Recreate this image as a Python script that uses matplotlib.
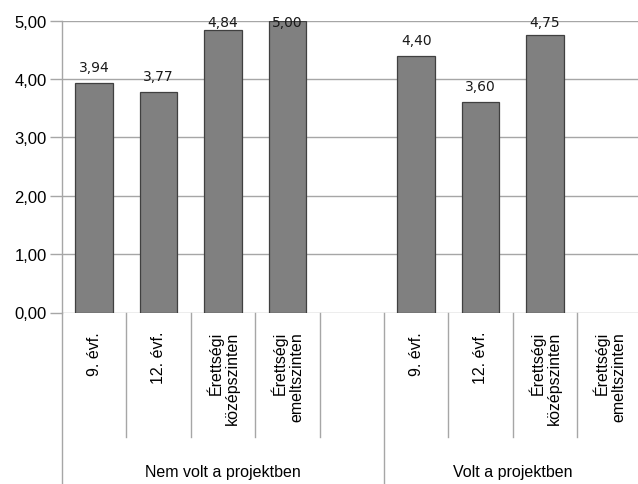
import numpy as np
import matplotlib
matplotlib.use("Agg")
import matplotlib.pyplot as plt
from matplotlib import font_manager
from matplotlib.transforms import blended_transform_factory

# ---- data ----
groups = ["Nem volt a projektben", "Volt a projektben"]
subcats = ["9. évf.", "12. évf.", "Érettségi\nközépszinten", "Érettségi\nemeltszinten"]
nem_values = [3.94, 3.77, 4.84, 5.00]
volt_values = [4.40, 3.60, 4.75, np.nan]
yticks = [0, 1, 2, 3, 4, 5]

# category layout: group 1 (4 + one empty slot), group 2 (4)
labels = subcats + [""] + subcats
values = nem_values + [np.nan] + volt_values
x = np.arange(len(labels))

available = {f.name for f in font_manager.fontManager.ttflist}
if "Liberation Sans Narrow" in available:
    axfont, axsize, ysize = "Liberation Sans Narrow", 14, 15
else:
    axfont, axsize, ysize = "Liberation Sans", 11.5, 12

W, H = 638, 485
fig = plt.figure(figsize=(W / 100, H / 100), dpi=100)
ax_left, ax_right = 62, 638
ax_top, ax_bottom = 21.7, 313.5
ax = fig.add_axes([ax_left / W, (H - ax_bottom) / H, (ax_right - ax_left) / W, (ax_bottom - ax_top) / H])

cat_w = 64.4
ax.set_xlim(-0.5, -0.5 + (ax_right - ax_left) / cat_w)
ax.set_ylim(0, 5)

grid_col = "#a6a6a6"
ax.bar(x, values, width=0.585, color="#808080", edgecolor="#404040", linewidth=0.9, zorder=3)

# data labels: 12 px above bar top, but kept inside the chart area (baseline no higher than y=27 px)
fig.canvas.draw()
inv = ax.transData.inverted()
top_limit_disp = H - 27
for xi, v in zip(x, values):
    if not np.isnan(v):
        bar_top_disp = ax.transData.transform((xi, v))[1]
        base_disp = min(bar_top_disp + 12, top_limit_disp)
        y_base = inv.transform((0, base_disp))[1]
        ax.text(xi, y_base, f"{v:.2f}".replace(".", ","), ha="center", va="baseline",
                fontsize=10, family="DejaVu Sans", color="#1a1a1a", clip_on=False, zorder=4)

ax.set_yticks(yticks)
ax.set_yticklabels([f"{t:.2f}".replace(".", ",") for t in yticks], fontsize=ysize, family=axfont)
ax.yaxis.grid(True, color=grid_col, linewidth=1.0, zorder=0)
ax.set_axisbelow(True)
ax.tick_params(axis="y", length=9, width=1.0, color=grid_col, pad=2)
ax.set_xticks([])
for s in ["top", "right", "bottom"]:
    ax.spines[s].set_visible(False)
ax.spines["left"].set_color(grid_col)
ax.spines["left"].set_linewidth(1.0)

tr = blended_transform_factory(ax.transData, fig.transFigure)
y0 = (H - ax_bottom) / H
y_short = (H - 438) / H
for b in np.arange(-0.5, len(labels), 1.0):
    long_line = b in (-0.5, 4.5)
    ax.plot([b, b], [y0, 0 if long_line else y_short], transform=tr, color=grid_col,
            linewidth=1.0, clip_on=False, zorder=1)

y_lab = (H - 332) / H
for xi, lab in zip(x, labels):
    if lab:
        ax.text(xi, y_lab, lab, transform=tr, rotation=90, ha="center", va="top",
                multialignment="right", fontsize=axsize, family=axfont, linespacing=1.15,
                color="#000000")

y_grp = (H - 473) / H
for gx, g in zip([2.0, 6.5], groups):
    ax.text(gx, y_grp, g, transform=tr, ha="center", va="center", fontsize=axsize,
            family=axfont, color="#000000")

fig.savefig("out.png", dpi=100)
